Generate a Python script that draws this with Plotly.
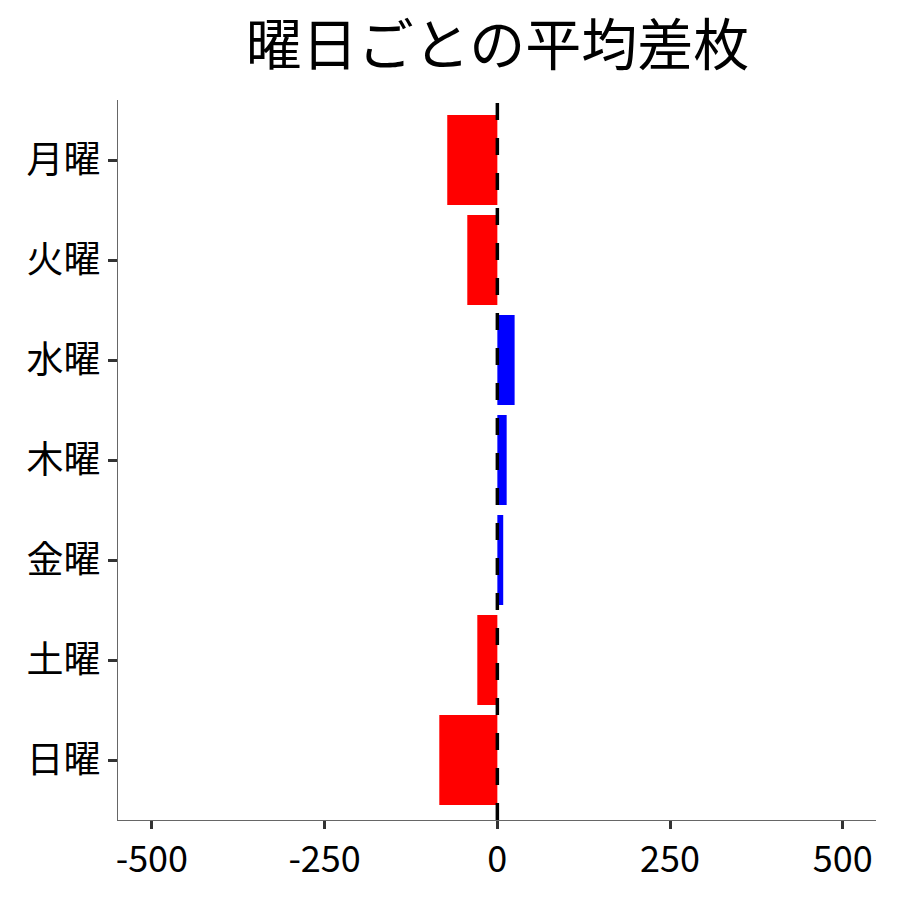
import plotly.graph_objects as go

days = ["月曜", "火曜", "水曜", "木曜", "金曜", "土曜", "日曜"]
avg_diff = [-72.5, -43.5, 25, 13.5, 8.5, -29, -84]
x_ticks = [-500, -250, 0, 250, 500]
title_text = "曜日ごとの平均差枚"

colors = ["#FF0000" if v < 0 else "#0000FF" for v in avg_diff]
FONT = "Noto Sans CJK JP"

fig = go.Figure()
fig.add_trace(go.Bar(
    x=avg_diff, y=days, orientation="h",
    marker=dict(color=colors, line=dict(width=0)),
    width=0.9, showlegend=False,
))

fig.add_shape(type="line", xref="x", yref="paper", x0=0, x1=0, y0=0, y1=1,
              line=dict(color="black", width=3.5, dash="17px,18px"), layer="above")

fig.update_layout(
    width=900, height=900,
    paper_bgcolor="white", plot_bgcolor="white",
    margin=dict(l=110, r=32, t=92, b=88),
    title=dict(text=title_text, x=0.544, xanchor="center", y=0.959, yanchor="middle",
               font=dict(family=FONT, size=56, color="black")),
    font=dict(family=FONT, color="black"),
    bargap=0.1,
)
fig.update_xaxes(
    range=[-549, 548], tickvals=x_ticks, ticktext=[str(t) for t in x_ticks],
    showgrid=False, zeroline=False,
    showline=True, linecolor="#666666", linewidth=1.2,
    ticks="outside", ticklen=8, tickwidth=3, tickcolor="#333333",
    tickfont=dict(family=FONT, size=36, color="black"),
)
fig.update_yaxes(
    categoryorder="array", categoryarray=days,
    range=[6.6, -0.6],
    showgrid=False, zeroline=False,
    showline=True, linecolor="#666666", linewidth=1.2,
    ticks="outside", ticklen=9, tickwidth=3, tickcolor="#333333",
    tickfont=dict(family=FONT, size=37, color="black"),
)

fig.write_html("out.html")
